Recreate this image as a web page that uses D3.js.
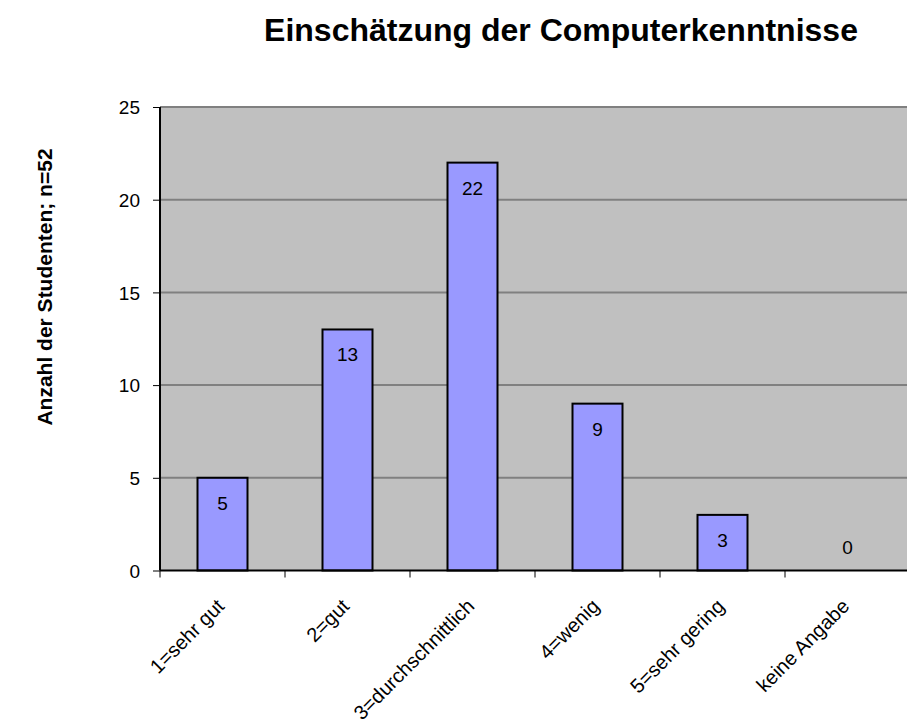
<!DOCTYPE html>
<html>
<head>
<meta charset="utf-8">
<script src="https://cdn.jsdelivr.net/npm/d3@7"></script>
<style>
  html, body { margin: 0; padding: 0; background: #fff; }
  svg { display: block; font-family: "Liberation Sans", Arial, sans-serif; }
</style>
</head>
<body>
<svg id="chart" width="907" height="727"></svg>
<script>
// Selbsteinschätzung der Computerkenntnisse (n = 52)
const categories = ["1=sehr gut", "2=gut", "3=durchschnittlich", "4=wenig", "5=sehr gering", "keine Angabe"];
const counts = [5, 13, 22, 9, 3, 0];
const yTicks = [0, 5, 10, 15, 20, 25];

const svg = d3.select("#chart");
const margin = { left: 160, top: 107, bottom: 570.5 };
const plotRight = 910;
const FONT = "Liberation Sans, Arial, sans-serif";

const x = d3.scaleBand().domain(categories).range([margin.left, plotRight]).paddingInner(0.6).paddingOuter(0.3);
const xTick = d3.scaleBand().domain(categories).range([margin.left, plotRight]);
const y = d3.scaleLinear().domain([0, 25]).range([margin.bottom, margin.top]);

// plot area
svg.append("rect")
  .attr("x", margin.left).attr("y", margin.top)
  .attr("width", plotRight - margin.left).attr("height", margin.bottom - margin.top)
  .attr("fill", "#c0c0c0");

// gridlines
svg.append("g").selectAll("line").data(yTicks.filter(d => d > 0)).join("line")
  .attr("x1", margin.left).attr("x2", plotRight)
  .attr("y1", d => y(d)).attr("y2", d => y(d))
  .attr("stroke", "#808080").attr("stroke-width", 2);

// bars
svg.append("g").selectAll("rect").data(counts).join("rect")
  .attr("x", (d, i) => x(categories[i]))
  .attr("y", d => y(d))
  .attr("width", x.bandwidth())
  .attr("height", d => y(0) - y(d))
  .attr("fill", "#9999ff")
  .attr("stroke", "#000").attr("stroke-width", 2)
  .attr("display", d => d > 0 ? null : "none");

// value labels, inside the top of each bar
svg.append("g").selectAll("text").data(counts).join("text")
  .attr("x", (d, i) => x(categories[i]) + x.bandwidth() / 2)
  .attr("y", d => Math.min(y(d) + 32, y(0) - 16.5))
  .attr("text-anchor", "middle")
  .attr("font-size", 19)
  .attr("fill", "#000")
  .text(d => d);

// y axis
const yAxis = svg.append("g").attr("transform", `translate(${margin.left},0)`)
  .call(d3.axisLeft(y).tickValues(yTicks).tickSize(7).tickPadding(13));
yAxis.select(".domain").attr("stroke", "#000").attr("stroke-width", 2).attr("d", `M0,${margin.top}V${margin.bottom}`);
yAxis.selectAll(".tick line").attr("stroke", "#000");
yAxis.selectAll(".tick text")
  .attr("font-size", 19).attr("font-family", FONT).attr("fill", "#000")
  .attr("dy", "0.36em");

// x axis
const xAxis = svg.append("g").attr("transform", `translate(0,${margin.bottom})`)
  .call(d3.axisBottom(xTick).tickSize(0).tickFormat(""));
xAxis.select(".domain").attr("stroke", "#000").attr("stroke-width", 2).attr("d", `M${margin.left},0H${plotRight}`);
svg.append("g").selectAll("line").data(categories).join("line")
  .attr("x1", d => xTick(d)).attr("x2", d => xTick(d))
  .attr("y1", margin.bottom).attr("y2", margin.bottom + 7)
  .attr("stroke", "#000");

// rotated category labels
svg.append("g").selectAll("text").data(categories).join("text")
  .attr("transform", d => `translate(${x(d) + x.bandwidth() / 2 + 3},${margin.bottom + 37}) rotate(-45)`)
  .attr("text-anchor", "end")
  .attr("font-size", 20)
  .attr("fill", "#000")
  .text(d => d);

// title
svg.append("text")
  .attr("x", 561).attr("y", 41)
  .attr("text-anchor", "middle")
  .attr("font-size", 32).attr("font-weight", "bold")
  .text("Einschätzung der Computerkenntnisse");

// y axis title
svg.append("text")
  .attr("transform", `translate(52,287) rotate(-90)`)
  .attr("text-anchor", "middle")
  .attr("font-size", 21).attr("font-weight", "bold")
  .text("Anzahl der Studenten; n=52");
</script>
</body>
</html>
